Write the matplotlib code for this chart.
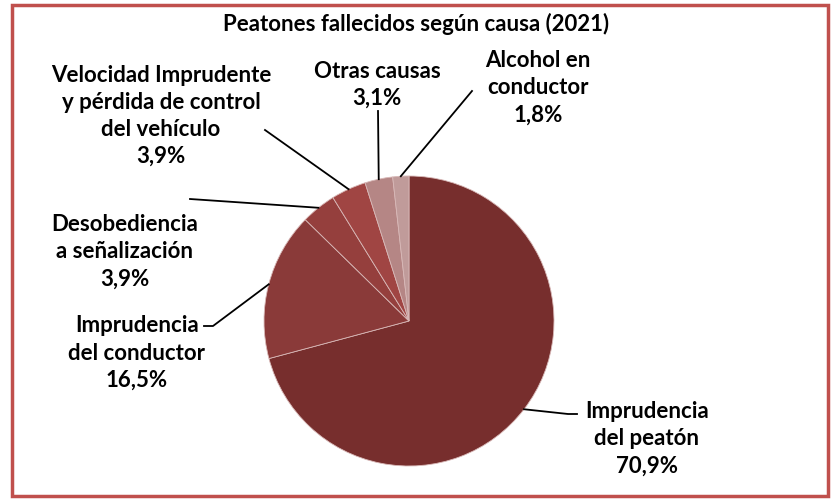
import numpy as np
import matplotlib.pyplot as plt
from matplotlib.patches import Rectangle

plt.rcParams['font.family'] = ['Lato', 'DejaVu Sans']

causas = ["Imprudencia\ndel peatón", "Imprudencia\ndel conductor", "Desobediencia\na señalización",
          "Velocidad Imprudente\ny pérdida de control\ndel vehículo", "Otras causas", "Alcohol en\nconductor"]
porcentajes = [70.9, 16.5, 3.9, 3.9, 3.1, 1.8]
colores = ["#772E2D", "#8A3A39", "#953F3D", "#A04543", "#B58685", "#C09B9A"]

# label placement in pixels (x, y from top) and leader line end points
pos_texto = [(647, 439), (137, 353), (125, 252), (161, 116), (377, 85), (538, 88)]
lineas = [[(568, 415), (577, 415)], [(213, 327), (204, 327)], [(190, 200)],
          [(265, 131)], [(378, 112)], [(472, 92)]]

W, H = 832, 502
fig = plt.figure(figsize=(W / 100, H / 100), dpi=100)
ax = fig.add_axes([0, 0, 1, 1])

cx, cy, r = 409, H - 322, 145
wedges, _ = ax.pie(porcentajes, colors=colores, startangle=90, counterclock=False,
                   center=(cx, cy), radius=r, frame=True,
                   wedgeprops=dict(edgecolor="#d8b8b7", linewidth=0.6))
ax.set_xlim(0, W)
ax.set_ylim(0, H)
ax.set_aspect('equal')
ax.axis('off')

for w, nombre, pct, (tx, ty), pts in zip(wedges, causas, porcentajes, pos_texto, lineas):
    ang = np.deg2rad((w.theta1 + w.theta2) / 2)
    x0, y0 = cx + r * np.cos(ang), cy + r * np.sin(ang)
    xs = [x0] + [p[0] for p in pts]
    ys = [y0] + [H - p[1] for p in pts]
    ax.plot(xs, ys, color="black", lw=1.3)
    etiqueta = nombre + "\n" + f"{pct:.1f}%".replace(".", ",")
    ax.text(tx, H - ty, etiqueta, ha="center", va="center", fontsize=16,
            fontweight="bold", linespacing=1.36)

ax.text(416, H - 24, "Peatones fallecidos según causa (2021)", ha="center", va="center",
        fontsize=16, fontweight="bold")

ax.add_patch(Rectangle((12, 5), 816, 491, fill=False, edgecolor="#C0504D", lw=2.5))

fig.savefig("out.png", dpi=100)
